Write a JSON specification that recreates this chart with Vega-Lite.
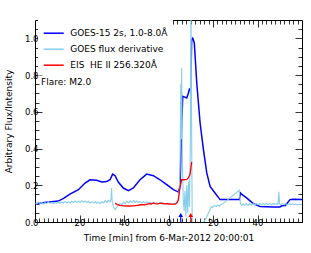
{
  "$schema": "https://vega.github.io/schema/vega-lite/v6.json",
  "width": 267,
  "height": 202,
  "autosize": "none",
  "padding": {"left": 35, "top": 20, "right": 9, "bottom": 31},
  "background": "white",
  "config": {
    "font": "DejaVu Sans",
    "view": {"stroke": "#000", "strokeWidth": 1},
    "axis": {"domain": false, "grid": false, "labelColor": "#000", "titleColor": "#000", "tickColor": "#000", "labelFontSize": 8.5, "titleFontSize": 9, "titleFontWeight": "normal", "tickWidth": 0.8, "labelFont": "DejaVu Sans", "titleFont": "DejaVu Sans", "labelOverlap": false},
    "legend": {"orient": "none", "legendX": 3, "legendY": -2.5, "fillColor": "white", "padding": 4.7, "symbolType": "stroke", "symbolSize": 400, "symbolStrokeWidth": 1.5, "rowPadding": -7.2, "labelFontSize": 9, "labelOffset": 5.6, "labelColor": "#000", "labelLimit": 0, "labelFont": "DejaVu Sans"}
  },
  "datasets": {
    "goes": [
      {"t": 0.0, "v": 0.100}, {"t": 5.2, "v": 0.107}, {"t": 10.5, "v": 0.114}, {"t": 13, "v": 0.13}, {"t": 15.7, "v": 0.152}, {"t": 19.5, "v": 0.176}, {"t": 22.5, "v": 0.212}, {"t": 24.7, "v": 0.230}, {"t": 27.7, "v": 0.227}, {"t": 30, "v": 0.218}, {"t": 32.2, "v": 0.220}, {"t": 33.7, "v": 0.230}, {"t": 34.9, "v": 0.261}, {"t": 36, "v": 0.252}, {"t": 37.5, "v": 0.216}, {"t": 39.7, "v": 0.185}, {"t": 42, "v": 0.171}, {"t": 44.2, "v": 0.185}, {"t": 47.2, "v": 0.230}, {"t": 50.2, "v": 0.261}, {"t": 53.2, "v": 0.252}, {"t": 56.2, "v": 0.230}, {"t": 59.2, "v": 0.203}, {"t": 62.2, "v": 0.176}, {"t": 64.4, "v": 0.163}, {"t": 65.2, "v": 0.194}, {"t": 65.9, "v": 0.52}, {"t": 66.4, "v": 0.684}, {"t": 67.4, "v": 0.680}, {"t": 68.2, "v": 0.675}, {"t": 68.9, "v": 0.70}, {"t": 69.4, "v": 0.724}, {"t": 70.0, "v": 0.72}, {"t": 70.4, "v": 0.99}, {"t": 70.9, "v": 1.0}, {"t": 71.6, "v": 0.975}, {"t": 72.7, "v": 0.757}, {"t": 74.2, "v": 0.539}, {"t": 75.7, "v": 0.394}, {"t": 77.2, "v": 0.267}, {"t": 78.7, "v": 0.194}, {"t": 80.9, "v": 0.158}, {"t": 83.2, "v": 0.122}, {"t": 89.1, "v": 0.122}, {"t": 91.8, "v": 0.122}, {"t": 92.4, "v": 0.158}, {"t": 93, "v": 0.15}, {"t": 95.1, "v": 0.131}, {"t": 98.1, "v": 0.100}, {"t": 101.1, "v": 0.085}, {"t": 107.1, "v": 0.082}, {"t": 110.1, "v": 0.082}, {"t": 111, "v": 0.088}, {"t": 112.5, "v": 0.09}, {"t": 114.6, "v": 0.122}, {"t": 116, "v": 0.124}, {"t": 120, "v": 0.122}
    ],
    "deriv": [
      {"t": 0.2, "v": 0.104}, {"t": 0.8, "v": 0.098}, {"t": 1.5, "v": 0.108}, {"t": 2.2, "v": 0.1}, {"t": 3, "v": 0.106}, {"t": 3.7, "v": 0.097}, {"t": 4.5, "v": 0.105}, {"t": 5.2, "v": 0.1}, {"t": 6, "v": 0.11}, {"t": 6.8, "v": 0.101}, {"t": 7.5, "v": 0.107}, {"t": 8.3, "v": 0.099}, {"t": 9, "v": 0.106}, {"t": 9.8, "v": 0.101}, {"t": 10.5, "v": 0.109}, {"t": 11.3, "v": 0.102}, {"t": 12, "v": 0.108}, {"t": 12.8, "v": 0.103}, {"t": 13.5, "v": 0.112}, {"t": 14.3, "v": 0.104}, {"t": 15, "v": 0.11}, {"t": 15.8, "v": 0.105}, {"t": 16.5, "v": 0.113}, {"t": 17.3, "v": 0.106}, {"t": 18, "v": 0.114}, {"t": 18.8, "v": 0.107}, {"t": 19.5, "v": 0.115}, {"t": 20.3, "v": 0.108}, {"t": 21, "v": 0.116}, {"t": 21.8, "v": 0.109}, {"t": 22.5, "v": 0.114}, {"t": 23.3, "v": 0.106}, {"t": 24, "v": 0.113}, {"t": 24.8, "v": 0.104}, {"t": 25.5, "v": 0.111}, {"t": 26.3, "v": 0.103}, {"t": 27, "v": 0.11}, {"t": 27.8, "v": 0.102}, {"t": 28.5, "v": 0.108}, {"t": 29.3, "v": 0.1}, {"t": 30, "v": 0.111}, {"t": 30.8, "v": 0.104}, {"t": 31.5, "v": 0.116}, {"t": 32.3, "v": 0.107}, {"t": 33, "v": 0.118}, {"t": 33.7, "v": 0.11}, {"t": 34.2, "v": 0.125}, {"t": 34.4, "v": 0.185}, {"t": 34.7, "v": 0.11}, {"t": 35.2, "v": 0.085}, {"t": 36, "v": 0.067}, {"t": 36.8, "v": 0.082}, {"t": 37.5, "v": 0.094}, {"t": 38.3, "v": 0.1}, {"t": 39, "v": 0.095}, {"t": 39.8, "v": 0.107}, {"t": 40.5, "v": 0.1}, {"t": 41.3, "v": 0.113}, {"t": 42, "v": 0.104}, {"t": 42.8, "v": 0.116}, {"t": 43.5, "v": 0.106}, {"t": 44.3, "v": 0.118}, {"t": 45, "v": 0.108}, {"t": 45.8, "v": 0.114}, {"t": 46.5, "v": 0.106}, {"t": 47.3, "v": 0.112}, {"t": 48, "v": 0.104}, {"t": 48.8, "v": 0.11}, {"t": 49.5, "v": 0.103}, {"t": 50.3, "v": 0.109}, {"t": 51, "v": 0.102}, {"t": 51.8, "v": 0.108}, {"t": 52.5, "v": 0.1}, {"t": 53.3, "v": 0.107}, {"t": 54, "v": 0.101}, {"t": 54.8, "v": 0.106}, {"t": 55.5, "v": 0.099}, {"t": 56.3, "v": 0.105}, {"t": 57, "v": 0.098}, {"t": 57.8, "v": 0.104}, {"t": 58.5, "v": 0.097}, {"t": 59.3, "v": 0.103}, {"t": 60, "v": 0.096}, {"t": 60.8, "v": 0.102}, {"t": 61.5, "v": 0.095}, {"t": 62.3, "v": 0.1}, {"t": 63, "v": 0.096}, {"t": 63.7, "v": 0.104}, {"t": 64.3, "v": 0.12}, {"t": 64.8, "v": 0.17}, {"t": 65.2, "v": 0.3}, {"t": 65.5, "v": 0.75}, {"t": 65.7, "v": 0.45}, {"t": 65.9, "v": 0.838}, {"t": 66.2, "v": 0.35}, {"t": 66.6, "v": 0.13}, {"t": 67, "v": 0.06}, {"t": 67.4, "v": 0.17}, {"t": 67.8, "v": 0.03}, {"t": 68.2, "v": 0.2}, {"t": 68.6, "v": 0.05}, {"t": 69, "v": 0.22}, {"t": 69.4, "v": 0.08}, {"t": 69.8, "v": 0.4}, {"t": 70.1, "v": 1.2}, {"t": 70.4, "v": 0.5}, {"t": 70.7, "v": -0.1}, {"t": 71.5, "v": -0.15}, {"t": 73, "v": -0.12}, {"t": 74.5, "v": -0.06}, {"t": 75.9, "v": 0.0}, {"t": 77, "v": 0.025}, {"t": 78, "v": 0.05}, {"t": 79.3, "v": 0.083}, {"t": 80, "v": 0.08}, {"t": 80.7, "v": 0.09}, {"t": 81.4, "v": 0.084}, {"t": 82.1, "v": 0.093}, {"t": 82.8, "v": 0.086}, {"t": 83.5, "v": 0.095}, {"t": 84.5, "v": 0.1}, {"t": 86, "v": 0.115}, {"t": 87.5, "v": 0.13}, {"t": 89, "v": 0.145}, {"t": 90.5, "v": 0.16}, {"t": 91.8, "v": 0.172}, {"t": 92.3, "v": 0.1}, {"t": 92.8, "v": 0.09}, {"t": 93.5, "v": 0.098}, {"t": 94.2, "v": 0.09}, {"t": 95, "v": 0.1}, {"t": 95.7, "v": 0.091}, {"t": 96.5, "v": 0.099}, {"t": 97.2, "v": 0.092}, {"t": 98, "v": 0.1}, {"t": 98.7, "v": 0.093}, {"t": 99.5, "v": 0.101}, {"t": 100.2, "v": 0.094}, {"t": 101, "v": 0.1}, {"t": 101.7, "v": 0.093}, {"t": 102.5, "v": 0.1}, {"t": 103.2, "v": 0.094}, {"t": 104, "v": 0.101}, {"t": 104.7, "v": 0.095}, {"t": 105.5, "v": 0.1}, {"t": 106.2, "v": 0.094}, {"t": 107, "v": 0.101}, {"t": 107.7, "v": 0.095}, {"t": 108.5, "v": 0.1}, {"t": 109.2, "v": 0.096}, {"t": 109.6, "v": 0.165}, {"t": 109.9, "v": 0.1}, {"t": 110.5, "v": 0.094}, {"t": 111.2, "v": 0.1}, {"t": 112, "v": 0.095}, {"t": 112.7, "v": 0.1}, {"t": 113.5, "v": 0.094}, {"t": 114.2, "v": 0.099}, {"t": 115, "v": 0.095}, {"t": 115.7, "v": 0.1}, {"t": 116.5, "v": 0.094}, {"t": 117.2, "v": 0.098}, {"t": 118, "v": 0.093}, {"t": 118.7, "v": 0.097}, {"t": 119.5, "v": 0.094}, {"t": 120, "v": 0.096}
    ],
    "eis": [
      {"t": 36, "v": 0.103}, {"t": 37, "v": 0.095}, {"t": 38.2, "v": 0.09}, {"t": 40, "v": 0.088}, {"t": 42, "v": 0.087}, {"t": 44.2, "v": 0.088}, {"t": 46, "v": 0.091}, {"t": 47.5, "v": 0.094}, {"t": 48.7, "v": 0.095}, {"t": 49.5, "v": 0.093}, {"t": 50.5, "v": 0.097}, {"t": 51.5, "v": 0.1}, {"t": 52.3, "v": 0.098}, {"t": 53.2, "v": 0.104}, {"t": 54, "v": 0.1}, {"t": 55, "v": 0.099}, {"t": 56, "v": 0.101}, {"t": 57, "v": 0.102}, {"t": 58, "v": 0.099}, {"t": 59.2, "v": 0.1}, {"t": 60.5, "v": 0.098}, {"t": 61.8, "v": 0.097}, {"t": 62.9, "v": 0.097}, {"t": 63.8, "v": 0.105}, {"t": 64.4, "v": 0.12}, {"t": 65.2, "v": 0.19}, {"t": 65.9, "v": 0.23}, {"t": 67, "v": 0.23}, {"t": 68.2, "v": 0.232}, {"t": 68.9, "v": 0.24}, {"t": 69.7, "v": 0.26}, {"t": 70.4, "v": 0.327}
    ],
    "arrows": [
      {"t": 65.5, "series": "GOES-15 2s, 1.0-8.0Å"},
      {"t": 70.0, "series": "EIS \u00a0HE II 256.320Å"}
    ],
    "notes": [
      {"t": 2.7, "v": 0.764, "label": "Flare: M2.0"}
    ]
  },
  "layer": [
    {
      "data": {"name": "goes"},
      "transform": [{"calculate": "'GOES-15 2s, 1.0-8.0Å'", "as": "series"}],
      "mark": {"type": "line", "strokeWidth": 1.5, "clip": true},
      "encoding": {
        "x": {"field": "t", "type": "quantitative", "scale": {"domain": [0, 120], "nice": false, "zero": false},
          "axis": {"orient": "bottom", "values": [20, 40, 60, 80, 100], "tickSize": -7, "labelPadding": 3, "labelExpr": "datum.value % 60", "title": "Time [min] from 6-Mar-2012 20:00:01", "titleY": 18, "titleBaseline": "alphabetic"}},
        "y": {"field": "v", "type": "quantitative", "scale": {"domain": [0, 1.1], "nice": false},
          "axis": {"orient": "left", "values": [0, 0.2, 0.4, 0.6, 0.8, 1.0], "format": ".1f", "tickSize": -7, "labelPadding": 4, "title": "Arbitrary Flux/Intensity", "titleX": -23.3, "titleY": 101, "titleBaseline": "alphabetic", "titleAngle": -90, "titleAlign": "center"}},
        "color": {"field": "series", "type": "nominal",
          "scale": {"domain": ["GOES-15 2s, 1.0-8.0Å", "GOES flux derivative", "EIS \u00a0HE II 256.320Å"], "range": ["#0000ff", "#87ceeb", "#ff0000"]},
          "legend": {"title": null}}
      }
    },
    {
      "data": {"name": "deriv"},
      "transform": [{"calculate": "'GOES flux derivative'", "as": "series"}],
      "mark": {"type": "line", "strokeWidth": 1.1, "clip": true},
      "encoding": {
        "x": {"field": "t", "type": "quantitative", "scale": {"domain": [0, 120], "nice": false, "zero": false},
          "axis": {"orient": "bottom", "values": [2, 4, 6, 8, 10, 12, 14, 16, 18, 22, 24, 26, 28, 30, 32, 34, 36, 38, 42, 44, 46, 48, 50, 52, 54, 56, 58, 62, 64, 66, 68, 70, 72, 74, 76, 78, 82, 84, 86, 88, 90, 92, 94, 96, 98, 102, 104, 106, 108, 110, 112, 114, 116, 118], "tickSize": -4, "labels": false, "title": null}},
        "y": {"field": "v", "type": "quantitative", "scale": {"domain": [0, 1.1], "nice": false},
          "axis": {"orient": "left", "values": [0.05, 0.1, 0.15, 0.25, 0.3, 0.35, 0.45, 0.5, 0.55, 0.65, 0.7, 0.75, 0.85, 0.9, 0.95, 1.05], "tickSize": -4, "labels": false, "title": null}},
        "color": {"field": "series", "type": "nominal", "legend": {"title": null}}
      }
    },
    {
      "data": {"name": "eis"},
      "transform": [{"calculate": "'EIS \u00a0HE II 256.320Å'", "as": "series"}],
      "mark": {"type": "line", "strokeWidth": 1.3, "clip": true},
      "encoding": {
        "x": {"field": "t", "type": "quantitative", "scale": {"domain": [0, 120], "nice": false, "zero": false},
          "axis": {"orient": "top", "values": [20, 40, 60, 80, 100], "tickSize": -7, "labels": false, "title": null}},
        "y": {"field": "v", "type": "quantitative", "scale": {"domain": [0, 1.1], "nice": false},
          "axis": {"orient": "right", "values": [0, 0.2, 0.4, 0.6, 0.8, 1.0], "tickSize": -7, "labels": false, "title": null}},
        "color": {"field": "series", "type": "nominal", "legend": {"title": null}}
      }
    },
    {
      "data": {"name": "arrows"},
      "mark": {"type": "rule", "strokeWidth": 1.2},
      "encoding": {
        "x": {"field": "t", "type": "quantitative", "scale": {"domain": [0, 120], "nice": false, "zero": false},
          "axis": {"orient": "top", "values": [2, 4, 6, 8, 10, 12, 14, 16, 18, 22, 24, 26, 28, 30, 32, 34, 36, 38, 42, 44, 46, 48, 50, 52, 54, 56, 58, 62, 64, 66, 68, 70, 72, 74, 76, 78, 82, 84, 86, 88, 90, 92, 94, 96, 98, 102, 104, 106, 108, 110, 112, 114, 116, 118], "tickSize": -4, "labels": false, "title": null}},
        "y": {"datum": 0, "type": "quantitative", "scale": {"domain": [0, 1.1], "nice": false},
          "axis": {"orient": "right", "values": [0.05, 0.1, 0.15, 0.25, 0.3, 0.35, 0.45, 0.5, 0.55, 0.65, 0.7, 0.75, 0.85, 0.9, 0.95, 1.05], "tickSize": -4, "labels": false, "title": null}},
        "y2": {"datum": 0.035},
        "color": {"field": "series", "type": "nominal", "legend": null}
      }
    },
    {
      "data": {"name": "arrows"},
      "mark": {"type": "point", "shape": "triangle-up", "filled": true, "size": 22, "opacity": 1},
      "encoding": {
        "x": {"field": "t", "type": "quantitative", "scale": {"domain": [0, 120], "nice": false, "zero": false}, "axis": null},
        "y": {"datum": 0.038, "type": "quantitative", "scale": {"domain": [0, 1.1], "nice": false}, "axis": null},
        "color": {"field": "series", "type": "nominal", "legend": null}
      }
    },
    {
      "data": {"name": "notes"},
      "mark": {"type": "text", "align": "left", "baseline": "middle", "fontSize": 9, "color": "#000", "font": "DejaVu Sans"},
      "encoding": {
        "x": {"field": "t", "type": "quantitative", "scale": {"domain": [0, 120], "nice": false, "zero": false}, "axis": null},
        "y": {"field": "v", "type": "quantitative", "scale": {"domain": [0, 1.1], "nice": false}, "axis": null},
        "text": {"field": "label"}
      }
    }
  ],
  "resolve": {"axis": {"x": "independent", "y": "independent"}}
}
